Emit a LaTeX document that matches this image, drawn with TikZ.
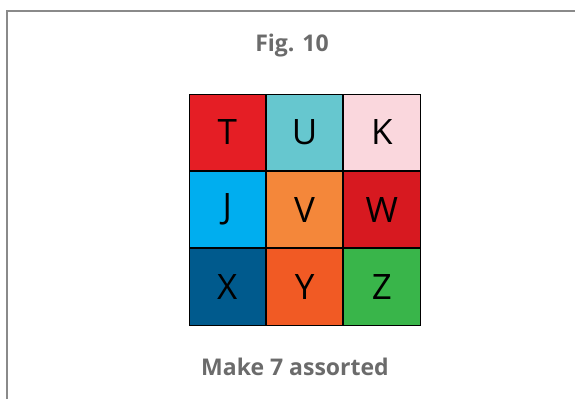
\documentclass[tikz,border=0pt]{standalone}
\usepackage{fontspec}
\setmainfont{Open Sans}
\usepackage{tikz}
\usetikzlibrary{positioning}
\definecolor{framegray}{HTML}{8A8A8A}
\definecolor{textgray}{HTML}{6B6B6B}
\definecolor{cT}{HTML}{E51E25}
\definecolor{cU}{HTML}{66C7CF}
\definecolor{cK}{HTML}{FAD7DD}
\definecolor{cJ}{HTML}{00AEEF}
\definecolor{cV}{HTML}{F4873A}
\definecolor{cW}{HTML}{D71920}
\definecolor{cX}{HTML}{005A8D}
\definecolor{cY}{HTML}{F15A24}
\definecolor{cZ}{HTML}{39B54A}

\begin{document}
\begin{tikzpicture}[x=1pt,y=-1pt,
  cell/.style={rectangle,draw=black,line width=0.8pt,minimum width=76.5pt,
               minimum height=76.5pt,inner sep=0pt,font=\fontsize{35}{35}\selectfont},
  caption/.style={text=textgray,font=\bfseries\fontsize{23}{23}\selectfont}
]
\useasboundingbox (0,0) rectangle (575,399);
\fill[white] (0,0) rectangle (575,399);
\draw[framegray,line width=1.5pt] (7,399) -- (7,11) -- (575,11);

\node[caption] (title) at (292,46) {Fig. 10};

% grid of letters
\node[cell,fill=cT] (T) at (227.3,132.3) {T};
\node[cell,fill=cU,right=0pt of T] (U) {U};
\node[cell,fill=cK,right=0pt of U] (K) {K};
\node[cell,fill=cJ,below=0pt of T] (J) {J};
\node[cell,fill=cV,right=0pt of J] (V) {V};
\node[cell,fill=cW,right=0pt of V] (W) {W};
\node[cell,fill=cX,below=0pt of J] (X) {X};
\node[cell,fill=cY,right=0pt of X] (Y) {Y};
\node[cell,fill=cZ,right=0pt of Y] (Z) {Z};

\node[caption] (note) at (295,367) {Make 7 assorted};
\end{tikzpicture}
\end{document}
